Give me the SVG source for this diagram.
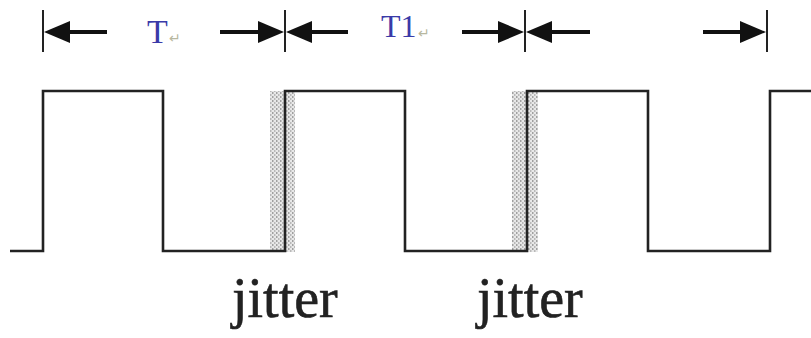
<svg xmlns="http://www.w3.org/2000/svg" width="811" height="338" viewBox="0 0 811 338">
<style>
.wave{fill:none;stroke:#222;stroke-width:2.6;stroke-linejoin:miter}
.tick{stroke:#222;stroke-width:2}
.dim{stroke:#111;stroke-width:4}
.head{fill:#111}
.lbl{font-family:"Liberation Serif",serif;fill:#3a3aa8}
.ret{font-family:"Liberation Serif",serif;fill:#b8b8a0;font-size:14px}
.jit{font-family:"Liberation Serif",serif;fill:#222;font-size:56px;stroke:#222;stroke-width:0.6}
</style>
<defs>
<pattern id="stip" width="4" height="4" patternUnits="userSpaceOnUse">
<rect width="4" height="4" fill="#e8e8e8"/>
<rect x="0" y="0" width="1.5" height="2" fill="#a0a0a0"/>
<rect x="2" y="2" width="1.5" height="2" fill="#b8b8b8"/>
</pattern>
</defs>
<rect width="811" height="338" fill="#fff"/>
<g id="jitter1">
<rect x="270" y="91" width="25" height="161" fill="url(#stip)"/>
<text class="jit" x="232" y="317">jitter</text>
</g>
<g id="jitter2">
<rect x="512" y="91" width="26" height="161" fill="url(#stip)"/>
<text class="jit" x="477" y="317">jitter</text>
</g>
<g id="waveform">
<path class="wave" d="M10,251 H43 V91 H163 V251 H285 V91 H405 V251 H527 V91 H648 V251 H770 V91 H811"/>
</g>
<g id="period-T">
<text class="lbl" x="147" y="43" font-size="34">T</text>
<text class="ret" x="169" y="43">↵</text>
</g>
<g id="period-T1">
<text class="lbl" x="381" y="37" font-size="32">T1</text>
<text class="ret" x="418" y="38">↵</text>
</g>
<g id="connectors">
<line class="tick" x1="43" y1="10" x2="43" y2="52"/>
<line class="tick" x1="285" y1="10" x2="285" y2="52"/>
<line class="tick" x1="525" y1="10" x2="525" y2="52"/>
<line class="tick" x1="767" y1="10" x2="767" y2="52"/>
<line class="dim" x1="66" y1="32" x2="107" y2="32"/>
<polygon class="head" points="44,32 70,21 70,43"/>
<line class="dim" x1="220" y1="32" x2="262" y2="32"/>
<polygon class="head" points="284,32 258,21 258,43"/>
<line class="dim" x1="308" y1="32" x2="348" y2="32"/>
<polygon class="head" points="286,32 312,21 312,43"/>
<line class="dim" x1="462" y1="32" x2="502" y2="32"/>
<polygon class="head" points="524,32 498,21 498,43"/>
<line class="dim" x1="548" y1="32" x2="590" y2="32"/>
<polygon class="head" points="526,32 552,21 552,43"/>
<line class="dim" x1="703" y1="32" x2="745" y2="32"/>
<polygon class="head" points="766,32 740,21 740,43"/>
</g>
</svg>
